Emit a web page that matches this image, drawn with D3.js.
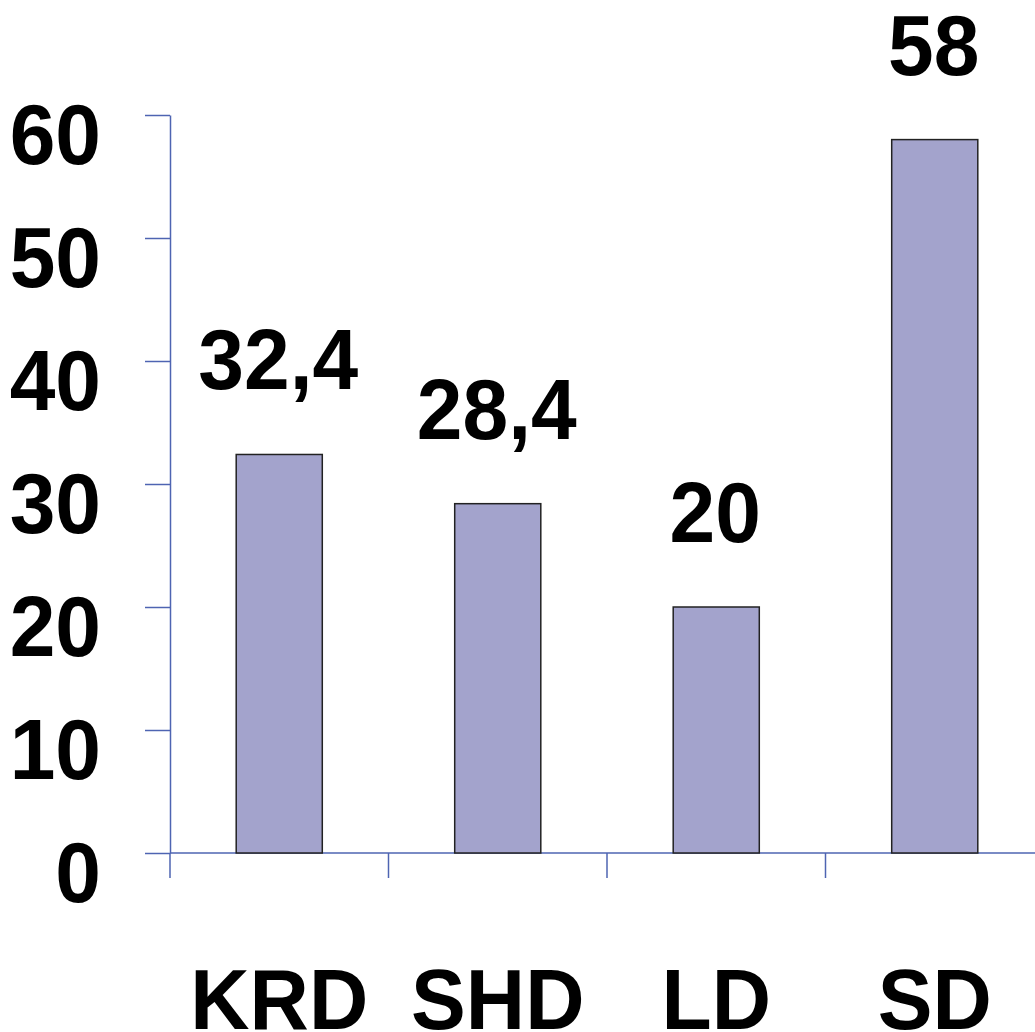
<!DOCTYPE html>
<html>
<head>
<meta charset="utf-8">
<script src="https://cdn.jsdelivr.net/npm/d3@7"></script>
<style>
  body { margin: 0; background: #fff; }
  text { font-family: Arial, "Liberation Sans", sans-serif; font-weight: bold; }
</style>
</head>
<body>
<div class="chart"></div>
<script>
  // data
  var categories = ["KRD", "SHD", "LD", "SD"];
  var values = [32.4, 28.4, 20, 58];
  var valueLabels = ["32,4", "28,4", "20", "58"];
  var yTicks = [0, 10, 20, 30, 40, 50, 60];

  var w = 1035, h = 1032;
  var axisColor = "#4e64b2";
  var fontSize = 86;
  var squeeze = "scale(0.955,1)"; // reference glyphs are a bit narrower

  var svg = d3.select(".chart")
    .append("svg")
    .attr("width", w)
    .attr("height", h);

  // scales
  var x = d3.scaleBand()
    .domain(categories)
    .range([170, 1044])
    .paddingInner(0)
    .paddingOuter(0);

  var y = d3.scaleLinear()
    .domain([0, 60])
    .range([853, 115]);

  var barW = x.bandwidth() * 0.394;

  // y axis
  var yAxis = svg.append("g")
    .attr("transform", "translate(170,0)")
    .call(d3.axisLeft(y).tickValues(yTicks).tickSize(25).tickSizeOuter(0).tickPadding(45));

  yAxis.select(".domain").attr("stroke", axisColor).attr("stroke-width", 1.5);
  yAxis.selectAll(".tick line").attr("stroke", axisColor).attr("stroke-width", 1.5);
  yAxis.selectAll(".tick text")
    .attr("fill", "#000")
    .attr("x", 0)
    .attr("y", 0)
    .attr("dy", 0)
    .attr("transform", "translate(-69,48) " + squeeze)
    .style("font-size", fontSize + "px")
    .style("font-weight", "bold");

  // x axis line
  svg.append("line")
    .attr("x1", 170).attr("x2", w)
    .attr("y1", y(0)).attr("y2", y(0))
    .attr("stroke", axisColor)
    .attr("stroke-width", 1.5);

  // category boundary ticks
  svg.selectAll(".xtick")
    .data(categories)
    .enter()
    .append("line")
    .attr("class", "xtick")
    .attr("x1", function(d) { return x(d); })
    .attr("x2", function(d) { return x(d); })
    .attr("y1", y(0))
    .attr("y2", y(0) + 25)
    .attr("stroke", axisColor)
    .attr("stroke-width", 1.5);

  // bars
  svg.selectAll(".bar")
    .data(values)
    .enter()
    .append("rect")
    .attr("class", "bar")
    .attr("x", function(d, i) { return x(categories[i]) + (x.bandwidth() - barW) / 2; })
    .attr("y", function(d) { return y(d); })
    .attr("width", barW)
    .attr("height", function(d) { return y(0) - y(d); })
    .attr("fill", "#a3a3cc")
    .attr("stroke", "#222")
    .attr("stroke-width", 1.5);

  // value labels
  svg.selectAll(".vlabel")
    .data(values)
    .enter()
    .append("text")
    .attr("class", "vlabel")
    .attr("transform", function(d, i) {
      return "translate(" + (x(categories[i]) + x.bandwidth() / 2 - 1) + "," + (y(d) - 65) + ") " + squeeze;
    })
    .attr("text-anchor", "middle")
    .style("font-size", fontSize + "px")
    .text(function(d, i) { return valueLabels[i]; });

  // category labels
  svg.selectAll(".clabel")
    .data(categories)
    .enter()
    .append("text")
    .attr("class", "clabel")
    .attr("transform", function(d) {
      return "translate(" + (x(d) + x.bandwidth() / 2) + ",1029) " + squeeze;
    })
    .attr("text-anchor", "middle")
    .style("font-size", fontSize + "px")
    .text(function(d) { return d; });
</script>
</body>
</html>
